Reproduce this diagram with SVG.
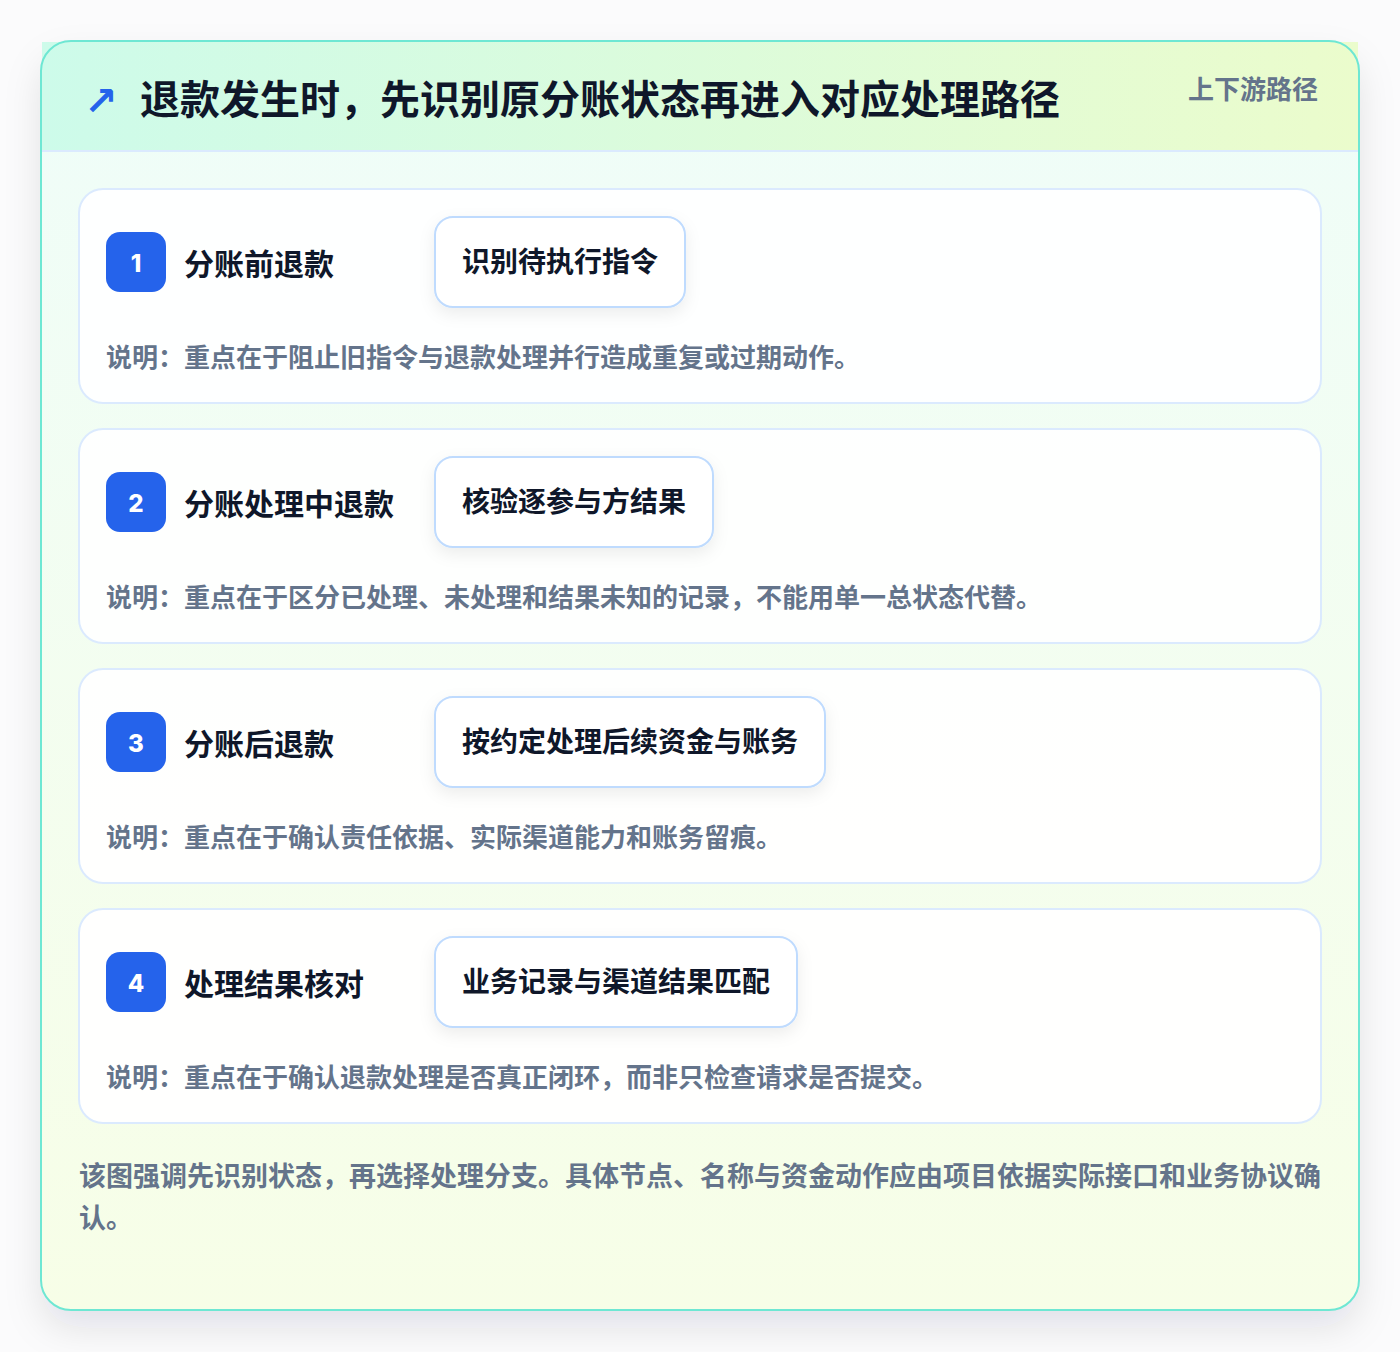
<svg xmlns="http://www.w3.org/2000/svg" width="1400" height="1352" viewBox="0 0 1400 1352">
<defs>
<linearGradient id="hdr" x1="0" y1="0" x2="1" y2="0">
<stop offset="0" stop-color="#cdfbea"/>
<stop offset="1" stop-color="#ebfccc"/>
</linearGradient>
<linearGradient id="body" x1="0" y1="0" x2="0" y2="1">
<stop offset="0" stop-color="#effdf9"/>
<stop offset="1" stop-color="#f7fee7"/>
</linearGradient>
<filter id="outer" x="-10%" y="-10%" width="120%" height="125%">
<feDropShadow dx="0" dy="18" stdDeviation="18" flood-color="#0f172a" flood-opacity="0.10"/>
</filter>
<filter id="pill" x="-20%" y="-30%" width="140%" height="170%">
<feDropShadow dx="0" dy="6" stdDeviation="8" flood-color="#0f172a" flood-opacity="0.07"/>
</filter>
</defs>
<style>
text{font-family:"Noto Sans CJK SC","Noto Sans",sans-serif;font-weight:700}
.card{fill:#ffffff;fill-opacity:0.92;stroke:#dbeafe;stroke-width:2}
.badge{fill:#2563eb}
.num{fill:#ffffff;font-family:Inter,"Noto Sans",sans-serif;font-weight:800;font-size:24px;text-anchor:middle}
.ttl{fill:#0f172a;font-size:30px}
.pill{fill:#ffffff;stroke:#bfdbfe;stroke-width:2}
.ptx{fill:#0f172a;font-size:28px}
.desc{fill:#64748b;font-size:26px}
</style>
<rect x="0" y="0" width="1400" height="1352" fill="#fbfbfc"/>
<g id="frame">
<rect x="41" y="41" width="1318" height="1269" rx="30" fill="url(#body)" filter="url(#outer)"/>
<rect x="42" y="42" width="1316" height="109" fill="url(#hdr)"/>
<line x1="42" y1="151" x2="1358" y2="151" stroke="#dbeafe" stroke-width="2"/>
<rect x="41" y="41" width="1318" height="1269" rx="30" fill="none" stroke="#6ee7d3" stroke-width="2"/>
</g>
<g id="header">
<text x="84" y="115" fill="#2563eb" font-size="40" style="font-family:'DejaVu Sans',sans-serif;font-weight:700">↗</text>
<text x="140" y="114" fill="#0f172a" font-size="40">退款发生时，先识别原分账状态再进入对应处理路径</text>
<text x="1318" y="99" fill="#64748b" font-size="26" text-anchor="end">上下游路径</text>
</g>
<g id="step1">
<rect class="card" x="79" y="189" width="1242" height="214" rx="24"/>
<rect class="badge" x="106" y="232" width="60" height="60" rx="14"/>
<text class="num" x="136" y="272">1</text>
<text class="ttl" x="184" y="275">分账前退款</text>
<rect class="pill" x="435" y="217" width="250" height="90" rx="18" filter="url(#pill)"/>
<text class="ptx" x="462" y="272">识别待执行指令</text>
<text class="desc" x="106" y="367">说明：重点在于阻止旧指令与退款处理并行造成重复或过期动作。</text>
</g>
<g id="step2">
<rect class="card" x="79" y="429" width="1242" height="214" rx="24"/>
<rect class="badge" x="106" y="472" width="60" height="60" rx="14"/>
<text class="num" x="136" y="512">2</text>
<text class="ttl" x="184" y="515">分账处理中退款</text>
<rect class="pill" x="435" y="457" width="278" height="90" rx="18" filter="url(#pill)"/>
<text class="ptx" x="462" y="512">核验逐参与方结果</text>
<text class="desc" x="106" y="607">说明：重点在于区分已处理、未处理和结果未知的记录，不能用单一总状态代替。</text>
</g>
<g id="step3">
<rect class="card" x="79" y="669" width="1242" height="214" rx="24"/>
<rect class="badge" x="106" y="712" width="60" height="60" rx="14"/>
<text class="num" x="136" y="752">3</text>
<text class="ttl" x="184" y="755">分账后退款</text>
<rect class="pill" x="435" y="697" width="390" height="90" rx="18" filter="url(#pill)"/>
<text class="ptx" x="462" y="752">按约定处理后续资金与账务</text>
<text class="desc" x="106" y="847">说明：重点在于确认责任依据、实际渠道能力和账务留痕。</text>
</g>
<g id="step4">
<rect class="card" x="79" y="909" width="1242" height="214" rx="24"/>
<rect class="badge" x="106" y="952" width="60" height="60" rx="14"/>
<text class="num" x="136" y="992">4</text>
<text class="ttl" x="184" y="995">处理结果核对</text>
<rect class="pill" x="435" y="937" width="362" height="90" rx="18" filter="url(#pill)"/>
<text class="ptx" x="462" y="992">业务记录与渠道结果匹配</text>
<text class="desc" x="106" y="1087">说明：重点在于确认退款处理是否真正闭环，而非只检查请求是否提交。</text>
</g>
<g id="connectors"></g>
<g id="footer">
<text x="79" y="1186" fill="#64748b" font-size="27">该图强调先识别状态，再选择处理分支。具体节点、名称与资金动作应由项目依据实际接口和业务协议确</text>
<text x="79" y="1228" fill="#64748b" font-size="27">认。</text>
</g>
</svg>
